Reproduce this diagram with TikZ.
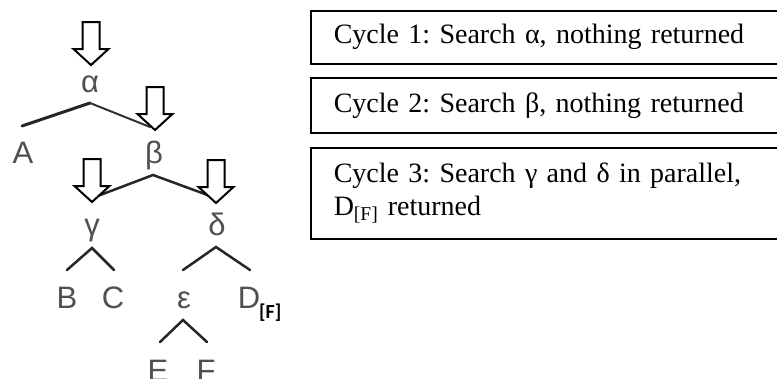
\documentclass[tikz,border=0pt]{standalone}
\usepackage{fontspec}
\setmainfont{Liberation Serif}
\newfontfamily\treefont{Liberation Sans}
\newfontfamily\flagfont{Carlito}
\definecolor{treegray}{HTML}{505050}
\frenchspacing
\tikzset{
  leaf/.style={font=\treefont\fontsize{31}{31}\selectfont, text=treegray, inner sep=0pt, anchor=base},
  flag/.style={font=\flagfont\bfseries\fontsize{20}{20}\selectfont, text=black, inner sep=0pt, anchor=west},
  branch/.style={line width=2.5pt, draw=black!85, line cap=round},
  thinbranch/.style={line width=2pt, draw=black!80, line cap=round},
  blockarrow/.style={draw=black, line width=2pt, fill=white, line join=miter},
  cyclebox/.style={draw=black, line width=1.5pt, anchor=north west, inner xsep=23pt, inner ysep=0pt,
    text width=440pt, align=left, font=\frenchspacing\fontsize{28}{33}\selectfont}
}
\newcommand\searcharrow[3]{%
  \coordinate (#1) at (#2,#3);
  \draw[blockarrow, shift={(#1)}] (-8.5,-43) -- (8.5,-43) -- (8.5,-16) -- (17.5,-16) -- (0,0)
     -- (-17.5,-16) -- (-8.5,-16) -- cycle;
}
\begin{document}
\begin{tikzpicture}[x=1pt,y=-1pt]
\clip (0,0) rectangle (777,378);
\fill[white] (0,0) rectangle (777,378);

% tree labels
\node[leaf] (alpha) at (90,92) {α};
\node[leaf] (A) at (23,163) {A};
\node[leaf] (beta) at (154,163) {β};
\node[leaf] (gamma) at (92,235) {γ};
\node[leaf] (delta) at (217,235) {δ};
\node[leaf] (B) at (67,308) {B};
\node[leaf] (C) at (113,308) {C};
\node[leaf] (eps) at (184,308) {ε};
\node[leaf] (D) at (249,308) {D};
\node[flag] (Fflag) at (259,313) {[F]};
\node[leaf] (E) at (158,381) {E};
\node[leaf] (Fleaf) at (206,381) {F};

% branch points
\coordinate (alphaapex) at (90,103);
\coordinate (Aend) at (22,126);
\coordinate (betaend) at (150,127);
\coordinate (betaapex) at (153,175);
\coordinate (gammaend) at (95,197);
\coordinate (deltaend) at (213,197);
\coordinate (gammaapex) at (92,248);
\coordinate (Bend) at (67,270);
\coordinate (Cend) at (114,270);
\coordinate (deltaapex) at (216,247);
\coordinate (epsend) at (183,270);
\coordinate (Dend) at (250,270);
\coordinate (epsapex) at (183,320);
\coordinate (Eend) at (160,342);
\coordinate (Fend) at (207,342);

\draw[line width=3pt, draw=black!85, line cap=round] (Aend) -- (alphaapex);
\draw[thinbranch] (alphaapex) -- (betaend);
\draw[branch] (gammaend) -- (betaapex) -- (deltaend);
\draw[branch] (Bend) -- (gammaapex) -- (Cend);
\draw[branch] (epsend) -- (deltaapex) -- (Dend);
\draw[branch] (Eend) -- (epsapex) -- (Fend);

% search arrows
\searcharrow{arrowalpha}{91}{65}
\searcharrow{arrowbeta}{155}{130}
\searcharrow{arrowgamma}{92}{202}
\searcharrow{arrowdelta}{216}{203}

% cycle boxes
\node[cyclebox, minimum height=53pt] (cycle1) at (310,10) {Cycle 1: Search α, nothing returned};
\node[cyclebox, minimum height=55pt] (cycle2) at (310,77) {Cycle 2: Search β, nothing returned};
\node[cyclebox, minimum height=91pt] (cycle3) at (310,147) {Cycle 3: Search γ and δ in parallel,\\ D\textsubscript{[F]} returned};
\end{tikzpicture}
\end{document}
